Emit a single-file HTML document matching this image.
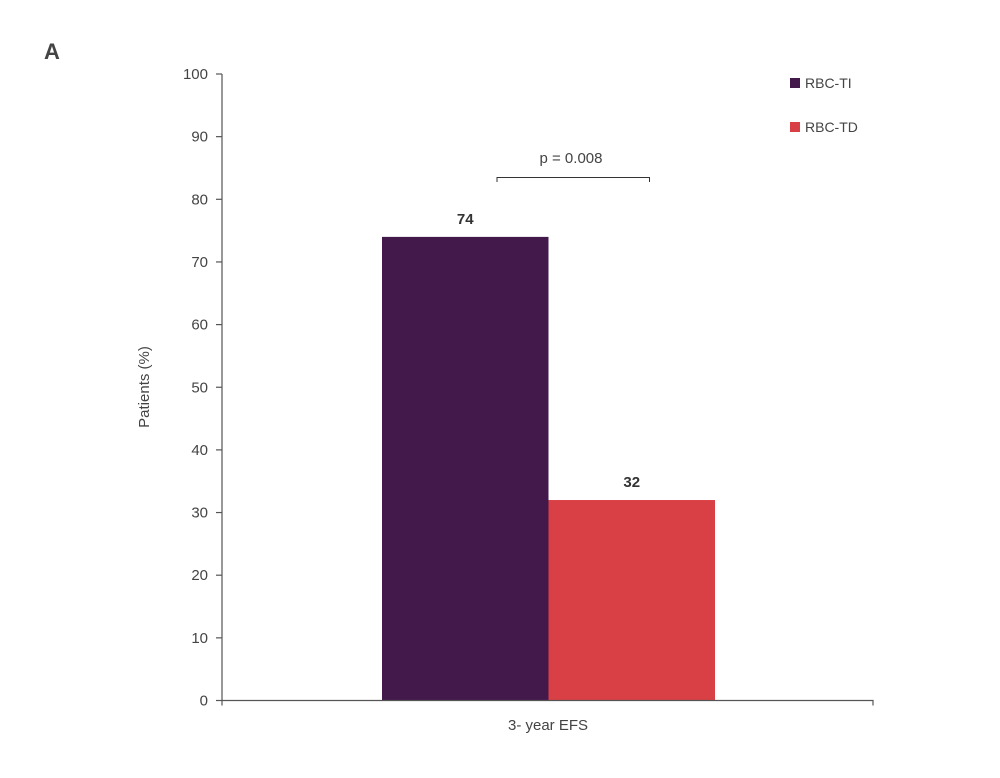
<!DOCTYPE html>
<html><head><meta charset="utf-8"><style>
body{margin:0;background:#fff;}
svg{display:block;font-family:"Liberation Sans",sans-serif;}
</style></head><body>
<svg id="chart" width="1000" height="778">
<text x="44" y="59" font-size="22" font-weight="bold" fill="#444">A</text>
<text transform="translate(149,387) rotate(-90)" text-anchor="middle" font-size="15" fill="#444">Patients (%)</text>
<text x="548" y="730" text-anchor="middle" font-size="15" fill="#444">3- year EFS</text>
<g>
<rect x="790" y="78" width="10" height="10" fill="#43194b"/>
<text x="805" y="88" font-size="14" fill="#444">RBC-TI</text>
<rect x="790" y="122" width="10" height="10" fill="#d94045"/>
<text x="805" y="132" font-size="14" fill="#444">RBC-TD</text>
</g>
<g>
<path d="M497,182 V177.5 H649.5 V182" fill="none" stroke="#333" stroke-width="1"/>
<text x="571" y="163" text-anchor="middle" font-size="15" fill="#444">p = 0.008</text>
</g>
<g id="plot"></g>
</svg>
<script>
const categories = ["RBC-TI", "RBC-TD"];
const values = [74, 32];
const colors = ["#43194b", "#d94045"];
const yTicks = [0,10,20,30,40,50,60,70,80,90,100];

const x0 = 222, x1 = 873, yBase = 700.5, yTop = 74;
function y(v){ return yBase - (v/100)*(yBase - yTop); }
const barStart = 382, barW = 166.5;
function bx(i){ return barStart + i*barW; }

const g = document.getElementById('plot');
const NS = "http://www.w3.org/2000/svg";
function mk(tag, attrs){ const e=document.createElementNS(NS,tag); for(const k in attrs) e.setAttribute(k,attrs[k]); g.appendChild(e); return e; }

values.forEach((v,i)=>{
  const r = mk('rect',{x:bx(i),y:y(v),width:barW,height:yBase-y(v),fill:colors[i]});
  
  
  const t = mk('text',{x:bx(i)+barW/2,y:y(v)-13,'text-anchor':'middle','font-size':15,'font-weight':'bold',fill:'#333'});
  t.textContent = v;
  
  
});

const ax = mk('path',{d:`M${x0},${yTop} V${yBase} H${x1} V${yBase+5} M${x0},${yBase} V${yBase+5}`,fill:'none',stroke:'#555','stroke-width':1.2});



yTicks.forEach(v=>{
  const tk = mk('line',{x1:x0-6,x2:x0,y1:y(v),y2:y(v),stroke:'#555','stroke-width':1.2});
  
  
  const t = mk('text',{x:x0-14,y:y(v)+5,'text-anchor':'end','font-size':15,fill:'#444'});
  t.textContent = v;
  
  
});
</script>
</body></html>
